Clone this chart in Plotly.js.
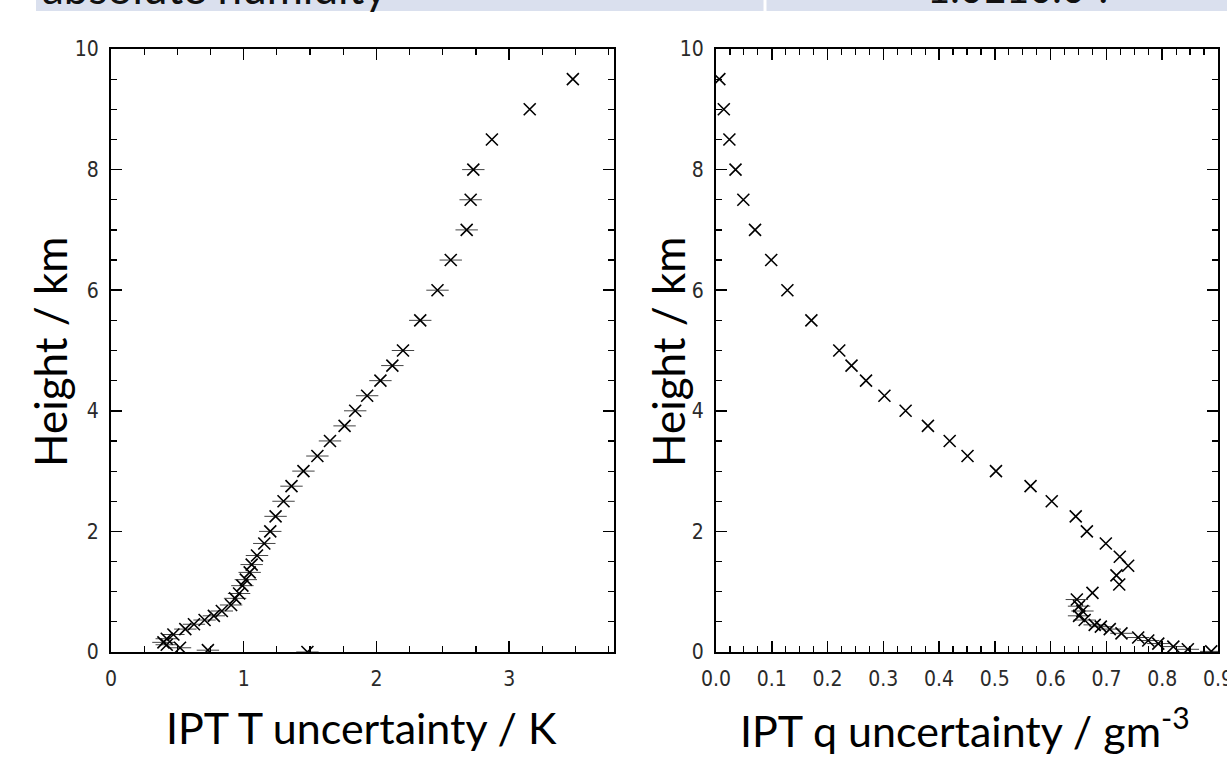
<!DOCTYPE html>
<html>
<head>
<meta charset="utf-8">
<script src="https://cdn.plot.ly/plotly-3.0.1.min.js"></script>
<style>
  html, body { margin: 0; padding: 0; background: #ffffff; }
  #chart { width: 1227px; height: 758px; }
</style>
</head>
<body>
<div id="chart"></div>
<script>
// ---- data ----
const heightT = [9.5, 9.0, 8.5, 8.0, 7.5, 7.0, 6.5, 6.0, 5.5, 5.0,
                 4.75, 4.5, 4.25, 4.0, 3.75, 3.5, 3.25, 3.0, 2.75, 2.5,
                 2.25, 2.0, 1.8, 1.6, 1.45, 1.32, 1.2, 1.1, 0.97, 0.89,
                 0.78, 0.68, 0.6, 0.53, 0.46, 0.38, 0.29, 0.22, 0.16, 0.12,
                 0.07, 0.03, 0.0];
const uncT = [3.48, 3.155, 2.87, 2.73, 2.71, 2.68, 2.56, 2.46, 2.33, 2.20,
              2.12, 2.03, 1.93, 1.84, 1.76, 1.65, 1.555, 1.45, 1.36, 1.30,
              1.24, 1.20, 1.155, 1.10, 1.06, 1.045, 1.016, 0.99, 0.965, 0.935,
              0.905, 0.835, 0.775, 0.705, 0.625, 0.56, 0.47, 0.42, 0.395, 0.42,
              0.52, 0.73, 1.48];

const heightQ = [9.5, 9.0, 8.5, 8.0, 7.5, 7.0, 6.5, 6.0, 5.5, 5.0,
                 4.75, 4.5, 4.25, 4.0, 3.75, 3.5, 3.25, 3.0, 2.75, 2.5,
                 2.25, 2.0, 1.8, 1.58, 1.43, 1.27, 1.12, 0.98, 0.87, 0.76,
                 0.68, 0.6, 0.53, 0.45, 0.42, 0.38, 0.31, 0.24, 0.19, 0.14,
                 0.09, 0.045, 0.01];
const uncQ = [0.006, 0.014, 0.024, 0.035, 0.049, 0.070, 0.099, 0.128, 0.171, 0.221,
              0.243, 0.269, 0.302, 0.340, 0.380, 0.419, 0.451, 0.502, 0.564, 0.602,
              0.645, 0.665, 0.699, 0.724, 0.739, 0.718, 0.723, 0.675, 0.647, 0.651,
              0.657, 0.651, 0.661, 0.679, 0.690, 0.706, 0.727, 0.757, 0.775, 0.793,
              0.820, 0.846, 0.888];

const xTicksT = [0, 1, 2, 3];
const xTicksQ = [0.0, 0.1, 0.2, 0.3, 0.4, 0.5, 0.6, 0.7, 0.8, 0.9];
const yTicks = [0, 2, 4, 6, 8, 10];

const bannerLeft = "absolute humidity";
const bannerRight = "1.0E10.0 ?";
const yTitle = "Height / km";
const xTitleT = "IPT T uncertainty / K";
const xTitleQ = "IPT q uncertainty / gm<sup>-3</sup>";

// ---- geometry helpers (pixels -> paper) ----
const W = 1227, H = 758;
const px = v => v / W;
const py = v => 1 - v / H;

const xMarker = { symbol: 'x-thin', size: 12, color: '#000', line: { color: '#000', width: 1.6 } };
const dashMarker = { symbol: 'line-ew', size: 16, color: '#444', line: { color: '#444', width: 1 } };

const traces = [
  { x: uncT.slice(3), y: heightT.slice(3), type: 'scatter', mode: 'markers', marker: dashMarker, xaxis: 'x', yaxis: 'y', hoverinfo: 'skip' },
  { x: uncT, y: heightT, type: 'scatter', mode: 'markers', marker: xMarker, xaxis: 'x', yaxis: 'y' },
  { x: uncQ.slice(28), y: heightQ.slice(28), type: 'scatter', mode: 'markers', marker: dashMarker, xaxis: 'x2', yaxis: 'y2', hoverinfo: 'skip' },
  { x: uncQ, y: heightQ, type: 'scatter', mode: 'markers', marker: xMarker, xaxis: 'x2', yaxis: 'y2' }
];

const tickFont = { family: 'Liberation Sans Narrow, DejaVu Sans Condensed, Liberation Sans, sans-serif', size: 21, color: '#2a2a2a' };
const baseAxis = {
  showline: true, linecolor: '#000', linewidth: 2, mirror: 'allticks',
  ticks: 'inside', ticklen: 11, tickwidth: 1.5, tickcolor: '#000',
  showgrid: false, zeroline: false, tickfont: tickFont, fixedrange: true,
  ticklabeloverflow: 'allow'
};

const layout = {
  width: W, height: H,
  margin: { l: 0, r: 0, t: 0, b: 0 },
  paper_bgcolor: '#ffffff', plot_bgcolor: '#ffffff',
  showlegend: false,
  xaxis: Object.assign({}, baseAxis, {
    domain: [px(111), px(614)], range: [0, 3.79],
    tickvals: xTicksT, ticktext: xTicksT.map(String),
    minor: { dtick: 0.25, ticklen: 6, tickwidth: 1.2, tickcolor: '#000', ticks: 'inside' },
    anchor: 'y', ticklabelstandoff: 7
  }),
  yaxis: Object.assign({}, baseAxis, {
    domain: [py(652), py(49)], range: [0, 10],
    tickvals: yTicks, ticktext: yTicks.map(String),
    minor: { dtick: 0.5, ticklen: 6, tickwidth: 1.2, tickcolor: '#000', ticks: 'inside' },
    anchor: 'x', ticklabelstandoff: 6
  }),
  xaxis2: Object.assign({}, baseAxis, {
    domain: [px(716), px(1218)], range: [0, 0.9001],
    tickvals: xTicksQ, ticktext: xTicksQ.map(v => v.toFixed(1)),
    minor: { dtick: 0.025, ticklen: 6, tickwidth: 1.2, tickcolor: '#000', ticks: 'inside' },
    anchor: 'y2', ticklabelstandoff: 7
  }),
  yaxis2: Object.assign({}, baseAxis, {
    domain: [py(652), py(49)], range: [0, 10],
    tickvals: yTicks, ticktext: yTicks.map(String),
    minor: { dtick: 0.5, ticklen: 6, tickwidth: 1.2, tickcolor: '#000', ticks: 'inside' },
    anchor: 'x2', ticklabelstandoff: 6
  }),
  shapes: [
    { type: 'rect', xref: 'paper', yref: 'paper', x0: px(36), x1: 1.01, y0: py(11), y1: 1.02,
      fillcolor: '#dae0ee', line: { width: 0 }, layer: 'below' },
    { type: 'line', xref: 'paper', yref: 'paper', x0: px(765), x1: px(765), y0: py(11), y1: 1.02,
      line: { color: '#ffffff', width: 3 }, layer: 'below' }
  ],
  annotations: [
    { text: bannerLeft, xref: 'paper', yref: 'paper', x: px(40), y: py(-13), xanchor: 'left', yanchor: 'middle',
      showarrow: false, font: { family: 'Lato, Carlito, sans-serif', size: 44, color: '#111' } },
    { text: bannerRight, xref: 'paper', yref: 'paper', x: px(1020), y: py(-12), xanchor: 'center', yanchor: 'middle',
      showarrow: false, font: { family: 'Lato, Carlito, sans-serif', size: 40, color: '#111' } },
    { text: yTitle, xref: 'paper', yref: 'paper', x: px(50), y: py(352), xanchor: 'center', yanchor: 'middle',
      textangle: -90, showarrow: false, font: { family: 'Lato, sans-serif', size: 44, color: '#000' } },
    { text: yTitle, xref: 'paper', yref: 'paper', x: px(668), y: py(352), xanchor: 'center', yanchor: 'middle',
      textangle: -90, showarrow: false, font: { family: 'Lato, sans-serif', size: 44, color: '#000' } },
    { text: xTitleT, xref: 'paper', yref: 'paper', x: px(361), y: py(727), xanchor: 'center', yanchor: 'middle',
      showarrow: false, font: { family: 'Lato, sans-serif', size: 43, color: '#000' } },
    { text: xTitleQ, xref: 'paper', yref: 'paper', x: px(965), y: py(727), xanchor: 'center', yanchor: 'middle',
      showarrow: false, font: { family: 'Lato, sans-serif', size: 43, color: '#000' } }
  ]
};

Plotly.newPlot('chart', traces, layout, { displayModeBar: false, staticPlot: true });
</script>
</body>
</html>
